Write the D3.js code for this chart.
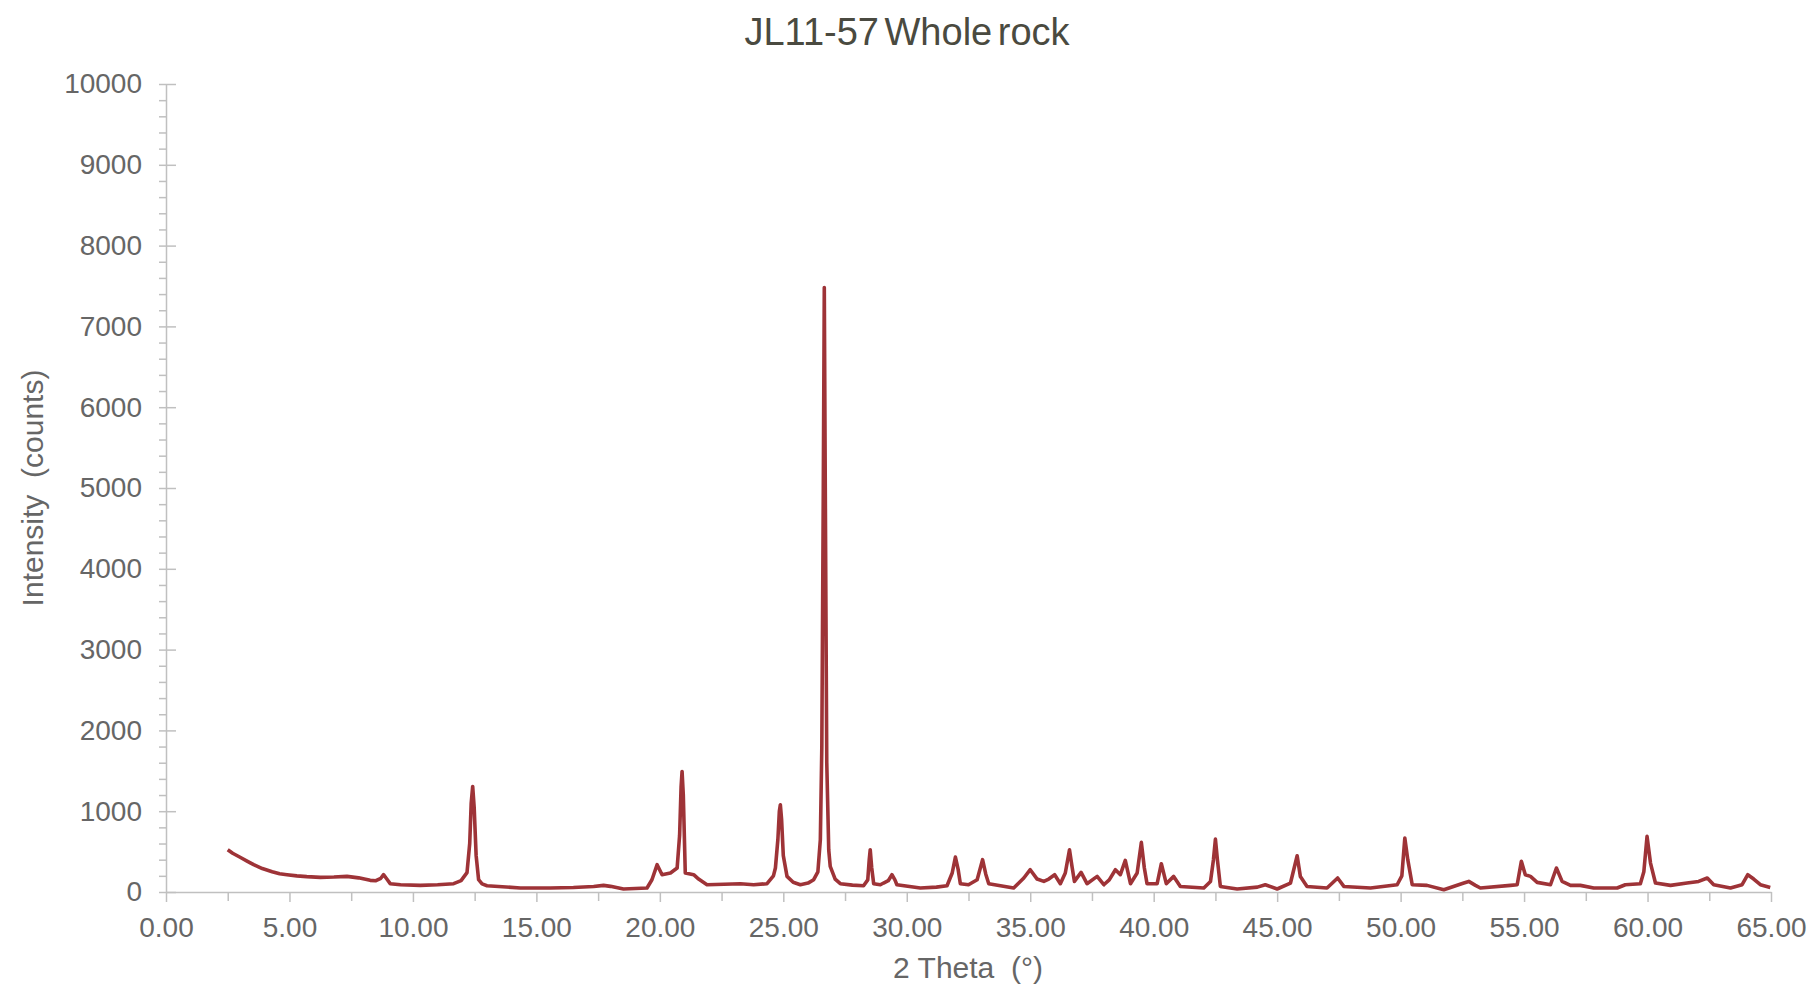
<!DOCTYPE html>
<html>
<head>
<meta charset="utf-8">
<script src="https://cdn.jsdelivr.net/npm/d3@7.9.0/dist/d3.min.js"></script>
<style>
  html, body { margin: 0; padding: 0; background: #fff; }
  svg { display: block; font-family: "Liberation Sans", Arial, sans-serif; }
  .axis path, .axis line { stroke: #c0c0c0; stroke-width: 1.5; }
  .axis text { fill: #666; font-size: 28px; }
</style>
</head>
<body>
<div id="chart"></div>
<script>
// 2-theta positions (degrees) and intensities (counts)
const twoTheta = [
  2.50, 2.70, 3.00, 3.30, 3.55, 3.90, 4.30, 4.60, 4.90, 5.30, 5.70, 6.25, 6.80, 7.33, 7.80,
  8.27, 8.50, 8.70, 8.81, 8.92, 9.08, 9.50, 10.30, 11.00, 11.65, 11.95, 12.19, 12.30, 12.36,
  12.42, 12.48, 12.56, 12.66, 12.80, 13.00, 14.35, 15.16, 15.56, 16.50, 17.32, 17.72, 18.00,
  18.53, 19.48, 19.68, 19.89, 20.09, 20.43, 20.70, 20.80, 20.86, 20.90, 20.95, 21.03, 21.37,
  21.57, 21.91, 22.60, 23.26, 23.80, 24.34, 24.60, 24.68, 24.78, 24.84, 24.88, 24.93, 25.00,
  25.15, 25.40, 25.69, 26.00, 26.23, 26.40, 26.50, 26.56, 26.62, 26.66, 26.70, 26.76, 26.84,
  26.90, 27.10, 27.31, 27.80, 28.25, 28.42, 28.48, 28.52, 28.58, 28.66, 28.93, 29.06, 29.25,
  29.40, 29.52, 29.60, 30.55, 31.20, 31.63, 31.84, 31.97, 32.08, 32.17, 32.50, 32.85, 33.07,
  33.20, 33.32, 34.33, 34.74, 35.00, 35.28, 35.55, 35.75, 35.99, 36.22, 36.42, 36.59, 36.70,
  36.79, 37.06, 37.30, 37.71, 37.98, 38.20, 38.45, 38.65, 38.85, 39.06, 39.33, 39.50, 39.62,
  39.73, 40.14, 40.31, 40.51, 40.81, 41.08, 42.03, 42.30, 42.42, 42.50, 42.58, 42.70, 43.38,
  44.20, 44.52, 45.00, 45.54, 45.81, 45.94, 46.21, 47.02, 47.45, 47.70, 48.78, 49.86, 50.05,
  50.17, 50.29, 50.47, 51.07, 51.75, 52.56, 52.76, 53.03, 53.23, 54.45, 54.72, 54.89, 55.05,
  55.26, 55.53, 56.07, 56.31, 56.54, 56.88, 57.28, 57.82, 58.77, 59.10, 59.71, 59.85, 59.98,
  60.12, 60.32, 60.93, 61.60, 62.07, 62.42, 62.68, 63.36, 63.83, 64.06, 64.30, 64.57, 64.97
];
const counts = [
  523, 480, 430, 380, 338, 290, 250, 225, 214, 200, 190, 181, 185, 193, 175,
  144, 140, 170, 214, 170, 103, 90, 82, 90, 103, 140, 239, 600, 1100,
  1306, 1050, 450, 152, 100, 78, 49, 49, 49, 55, 69, 82, 70,
  37, 49, 152, 338, 214, 235, 297, 700, 1300, 1492, 1200, 235, 214,
  160, 90, 95, 103, 90, 103, 200, 297, 650, 1000, 1080, 900, 450,
  193, 120, 90, 110, 152, 250, 647, 1800, 5000, 7480, 5000, 1600, 520,
  317, 160, 103, 85, 78, 150, 400, 523, 300, 103, 90, 111, 140,
  214, 150, 90, 49, 60, 78, 235, 433, 280, 103, 90, 152, 400,
  220, 103, 49, 173, 276, 160, 131, 160, 214, 103, 235, 523, 300,
  131, 243, 103, 193, 90, 150, 276, 214, 391, 103, 235, 614, 300,
  103, 103, 350, 103, 193, 69, 49, 131, 400, 655, 400, 69, 37,
  60, 90, 37, 111, 449, 193, 69, 49, 173, 69, 49, 90, 200,
  668, 400, 90, 82, 28, 111, 131, 82, 49, 82, 90, 379, 214,
  193, 119, 90, 297, 131, 82, 82, 49, 49, 90, 103, 250, 688,
  358, 111, 82, 111, 131, 173, 90, 49, 90, 214, 160, 90, 57
];

const xMajor = [0, 5, 10, 15, 20, 25, 30, 35, 40, 45, 50, 55, 60, 65];
const xMinor = [2.5, 7.5, 12.5, 17.5, 22.5, 27.5, 32.5, 37.5, 42.5, 47.5, 52.5, 57.5, 62.5];
const yMajor = [0, 1000, 2000, 3000, 4000, 5000, 6000, 7000, 8000, 9000, 10000];
const yMinor = d3.range(200, 10000, 200).filter(v => v % 1000 !== 0);

const chartTitle = 'JL11-57 Whole rock';
const xTitle = '2 Theta\u00a0\u00a0(°)';
const yTitle = 'Intensity\u00a0\u00a0(counts)';

const width = 1816, height = 990;
const margin = { top: 84, right: 45, bottom: 98, left: 166 };

const svg = d3.select('#chart').append('svg')
  .attr('width', width)
  .attr('height', height);

const x = d3.scaleLinear()
  .domain([0, 65])
  .range([margin.left, width - margin.right]);

const y = d3.scaleLinear()
  .domain([0, 10000])
  .range([height - margin.bottom, margin.top]);

// title
svg.append('text')
  .attr('x', 907)
  .attr('y', 45)
  .attr('text-anchor', 'middle')
  .style('font-size', '38px')
  .style('letter-spacing', '0px')
  .style('word-spacing', '-5px')
  .style('fill', '#4a4a40')
  .text(chartTitle);

// y axis: minor ticks first
svg.append('g')
  .attr('class', 'axis')
  .attr('transform', `translate(${margin.left},0)`)
  .call(d3.axisLeft(y).tickValues(yMinor).tickSize(7).tickFormat(''))
  .call(g => g.select('.domain').remove());

const yAxis = svg.append('g')
  .attr('class', 'axis')
  .attr('transform', `translate(${margin.left},0)`)
  .call(d3.axisLeft(y).tickValues(yMajor).tickSize(7).tickSizeOuter(0).tickPadding(17).tickFormat(d3.format('d')));

// major y ticks cross the axis line
yAxis.selectAll('.tick').append('line').attr('x1', 0).attr('x2', 10);

// x axis
svg.append('g')
  .attr('class', 'axis')
  .attr('transform', `translate(0,${height - margin.bottom})`)
  .call(d3.axisBottom(x).tickValues(xMinor).tickSize(9).tickFormat(''))
  .call(g => g.select('.domain').remove());

svg.append('g')
  .attr('class', 'axis')
  .attr('transform', `translate(0,${height - margin.bottom})`)
  .call(d3.axisBottom(x).tickValues(xMajor).tickSize(10).tickSizeOuter(0).tickPadding(15).tickFormat(d3.format('.2f')));

// axis titles
svg.append('text')
  .attr('x', 968)
  .attr('y', 978)
  .attr('text-anchor', 'middle')
  .style('font-size', '30px')
  .style('fill', '#666')
  .text(xTitle);

svg.append('text')
  .attr('transform', 'translate(32,488) rotate(-90)')
  .attr('text-anchor', 'middle')
  .attr('dy', '0.35em')
  .style('font-size', '30px')
  .style('fill', '#666')
  .text(yTitle);

// scan trace
const points = d3.zip(twoTheta, counts);
const line = d3.line()
  .x(d => x(d[0]))
  .y(d => y(d[1]));

svg.append('path')
  .datum(points)
  .attr('fill', 'none')
  .attr('stroke', '#9e3337')
  .attr('stroke-width', 3.6)
  .attr('stroke-linejoin', 'round')
  .attr('d', line);
</script>
</body>
</html>
